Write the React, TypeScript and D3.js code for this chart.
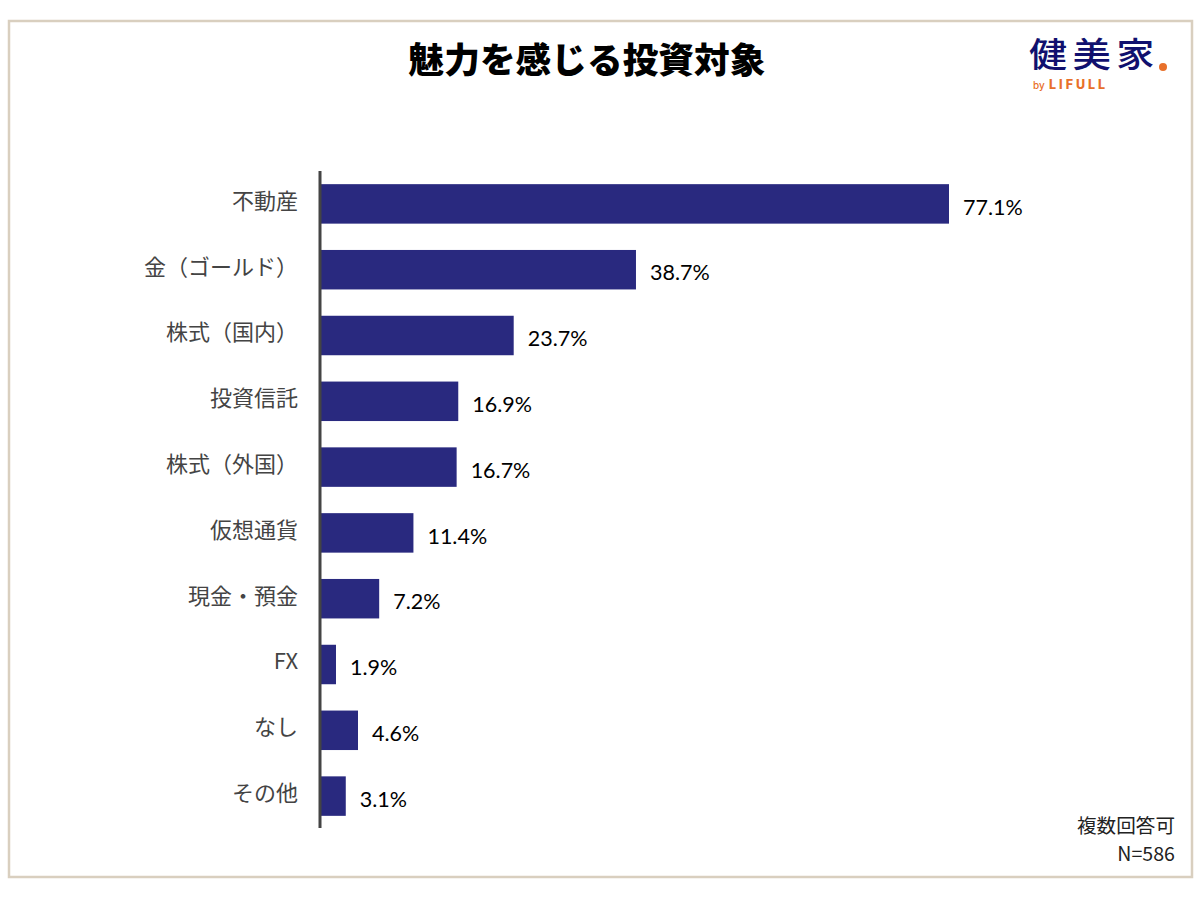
import React from "react";
import * as d3 from "d3";

const categories = ["不動産", "金（ゴールド）", "株式（国内）", "投資信託", "株式（外国）", "仮想通貨", "現金・預金", "FX", "なし", "その他"];
const values = [77.1, 38.7, 23.7, 16.9, 16.7, 11.4, 7.2, 1.9, 4.6, 3.1];
const notes = ["複数回答可", "N=586"];

const width = 1200;
const height = 900;
const jp = "'Noto Sans CJK JP', sans-serif";
const navy = "#29297f";

const x = d3.scaleLinear().domain([0, 77.1]).range([320.5, 949]);
const y = d3.scaleBand<string>().domain(categories).range([171, 829]).paddingInner(0.4).paddingOuter(0.2);

export default function App() {
  return (
    <svg width={width} height={height} style={{ position: "absolute", left: 0, top: 0, background: "#fff" }}>
      <rect x={9} y={21} width={1183} height={856} fill="#fff" stroke="#d9cfbf" strokeWidth={2.5} />

      <text x={587} y={73} textAnchor="middle" fontFamily={jp} fontWeight={900} fontSize={35.7} fill="#000">
        魅力を感じる投資対象
      </text>

      {/* logo */}
      <text transform="translate(1029,67) scale(1.12,1)" fontFamily={jp} fontWeight={500} fontSize={34} letterSpacing={5} fill="#10106e">
        健美家
      </text>
      <circle cx={1163} cy={67} r={4} fill="#e8702a" />
      <text x={1033} y={89} fontFamily="Inter, sans-serif" fontWeight={500} fontSize={10} fill="#e8702a">
        by
      </text>
      <text x={1049} y={89} fontFamily="Inter, sans-serif" fontWeight={800} fontSize={12.5} letterSpacing={3} fill="#e8702a">
        LIFULL
      </text>

      {categories.map((c, i) => {
        const by = y(c) as number;
        const mid = by + y.bandwidth() / 2;
        return (
          <g key={c}>
            <rect x={x(0)} y={by} width={x(values[i]) - x(0)} height={y.bandwidth()} fill={navy} />
            <text x={298} y={mid - 3} dy="0.36em" textAnchor="end" fontFamily={jp} fontWeight={400} fontSize={22} fill="#444">
              {c}
            </text>
            <text x={x(values[i]) + 14} y={mid + 3} dy="0.36em" fontFamily="Lato, sans-serif" fontSize={21.5} fill="#000">
              {values[i].toFixed(1)}%
            </text>
          </g>
        );
      })}

      <line x1={320} x2={320} y1={171} y2={828} stroke="#444" strokeWidth={3} />

      {notes.map((n, i) => (
        <text key={n} x={1175} y={833 + i * 28} textAnchor="end" fontFamily={jp} fontWeight={400} fontSize={19.6} fill="#222">
          {n}
        </text>
      ))}
    </svg>
  );
}
